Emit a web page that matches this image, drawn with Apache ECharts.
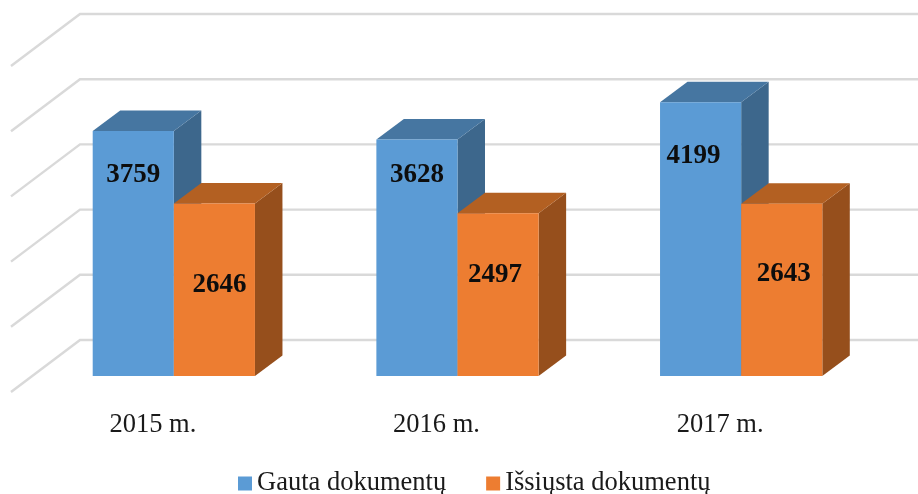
<!DOCTYPE html>
<html>
<head>
<meta charset="utf-8">
<style>
  html, body { margin: 0; padding: 0; background: #fff; }
  #chart { width: 918px; height: 494px; }
</style>
</head>
<body>
<div id="chart"></div>
<script src="https://cdn.jsdelivr.net/npm/echarts@6/dist/echarts.min.js"></script>
<script>
  var years = ['2015 m.', '2016 m.', '2017 m.'];
  var received = [3759, 3628, 4199];
  var sent = [2646, 2497, 2643];
  var wallTicks = [0, 1000, 2000, 3000, 4000, 5000];

  // the value labels were moved by hand in the original, so each has its own nudge from the bar top
  var receivedLabelNudge = [[0, 44], [0, 36], [-7, 54]];
  var sentLabelNudge = [[5, 82], [-3, 62], [2, 70]];

  var FONT = '"Liberation Serif", "Times New Roman", serif';

  // fake 3d: floor is sheared back and up
  var WALL_DX = 69, WALL_DY = 52;
  var BAR_SHIFT_X = 21, BAR_SHIFT_Y = 16;
  var DEPTH_X = 27.5, DEPTH_Y = 20.5;
  var BAR_RATIO = 0.286;

  function wallLine(params, api) {
    var y = api.coord([0, api.value(0)])[1];
    var x0 = params.coordSys.x;
    return {
      type: 'polyline',
      silent: true,
      shape: { points: [[x0, y], [x0 + WALL_DX, y - WALL_DY], [918, y - WALL_DY]] },
      style: { fill: null, stroke: '#d9d9d9', lineWidth: 2.4 }
    };
  }

  function bar3d(side, front, top, dark, nudges) {
    return function (params, api) {
      var i = api.value(0);
      var pt = api.coord([i, api.value(1)]);
      var base = api.coord([i, 0]);
      var w = api.size([1, 0])[0] * BAR_RATIO;
      var x0 = pt[0] + BAR_SHIFT_X + (side < 0 ? -w : 0);
      var x1 = x0 + w;
      var yTop = pt[1] - BAR_SHIFT_Y;
      var yBase = base[1] - BAR_SHIFT_Y;
      return {
        type: 'group',
        children: [
          {
            type: 'polygon',
            shape: { points: [[x1, yTop], [x1 + DEPTH_X, yTop - DEPTH_Y], [x1 + DEPTH_X, yBase - DEPTH_Y], [x1, yBase]] },
            style: { fill: dark }
          },
          {
            type: 'polygon',
            shape: { points: [[x0, yTop], [x0 + DEPTH_X, yTop - DEPTH_Y], [x1 + DEPTH_X, yTop - DEPTH_Y], [x1, yTop]] },
            style: { fill: top }
          },
          {
            type: 'rect',
            shape: { x: x0, y: yTop, width: w, height: yBase - yTop },
            style: { fill: front }
          },
          {
            type: 'text',
            style: {
              text: String(api.value(1)),
              x: (x0 + x1) / 2 + nudges[i][0],
              y: yTop + nudges[i][1],
              align: 'center',
              verticalAlign: 'middle',
              fontFamily: FONT,
              fontWeight: 'bold',
              fontSize: 27,
              fill: '#0d0d0d'
            }
          }
        ]
      };
    };
  }

  function pairs(values) {
    return values.map(function (v, i) { return [i, v]; });
  }

  var myChart = echarts.init(document.getElementById('chart'), null, { renderer: 'canvas' });

  var option = {
    animation: false,
    backgroundColor: '#fff',
    grid: { left: 11, right: 56, top: 66, bottom: 102 },
    legend: {
      data: ['Gauta dokumentų', 'Išsiųsta dokumentų'],
      left: 233,
      top: 465,
      icon: 'rect',
      itemWidth: 14,
      itemHeight: 14,
      itemGap: 40,
      textStyle: { fontFamily: FONT, fontSize: 26.5, color: '#1a1a1a' }
    },
    xAxis: {
      type: 'category',
      data: years,
      axisLine: { show: false },
      axisTick: { show: false },
      axisLabel: { margin: 20, fontFamily: FONT, fontSize: 26.5, color: '#1a1a1a' }
    },
    yAxis: {
      type: 'value',
      min: 0,
      max: 5000,
      interval: 1000,
      show: false,
      splitLine: { show: false }
    },
    series: [
      {
        type: 'custom',
        renderItem: wallLine,
        data: wallTicks,
        encode: { y: 0 },
        silent: true
      },
      {
        name: 'Gauta dokumentų',
        type: 'custom',
        renderItem: bar3d(-1, '#5b9bd5', '#4676a1', '#3d678c', receivedLabelNudge),
        itemStyle: { color: '#5b9bd5' },
        data: pairs(received),
        encode: { x: 0, y: 1 }
      },
      {
        name: 'Išsiųsta dokumentų',
        type: 'custom',
        renderItem: bar3d(1, '#ed7d31', '#b36022', '#964f1c', sentLabelNudge),
        itemStyle: { color: '#ed7d31' },
        data: pairs(sent),
        encode: { x: 0, y: 1 }
      }
    ]
  };

  myChart.setOption(option);
</script>
</body>
</html>
